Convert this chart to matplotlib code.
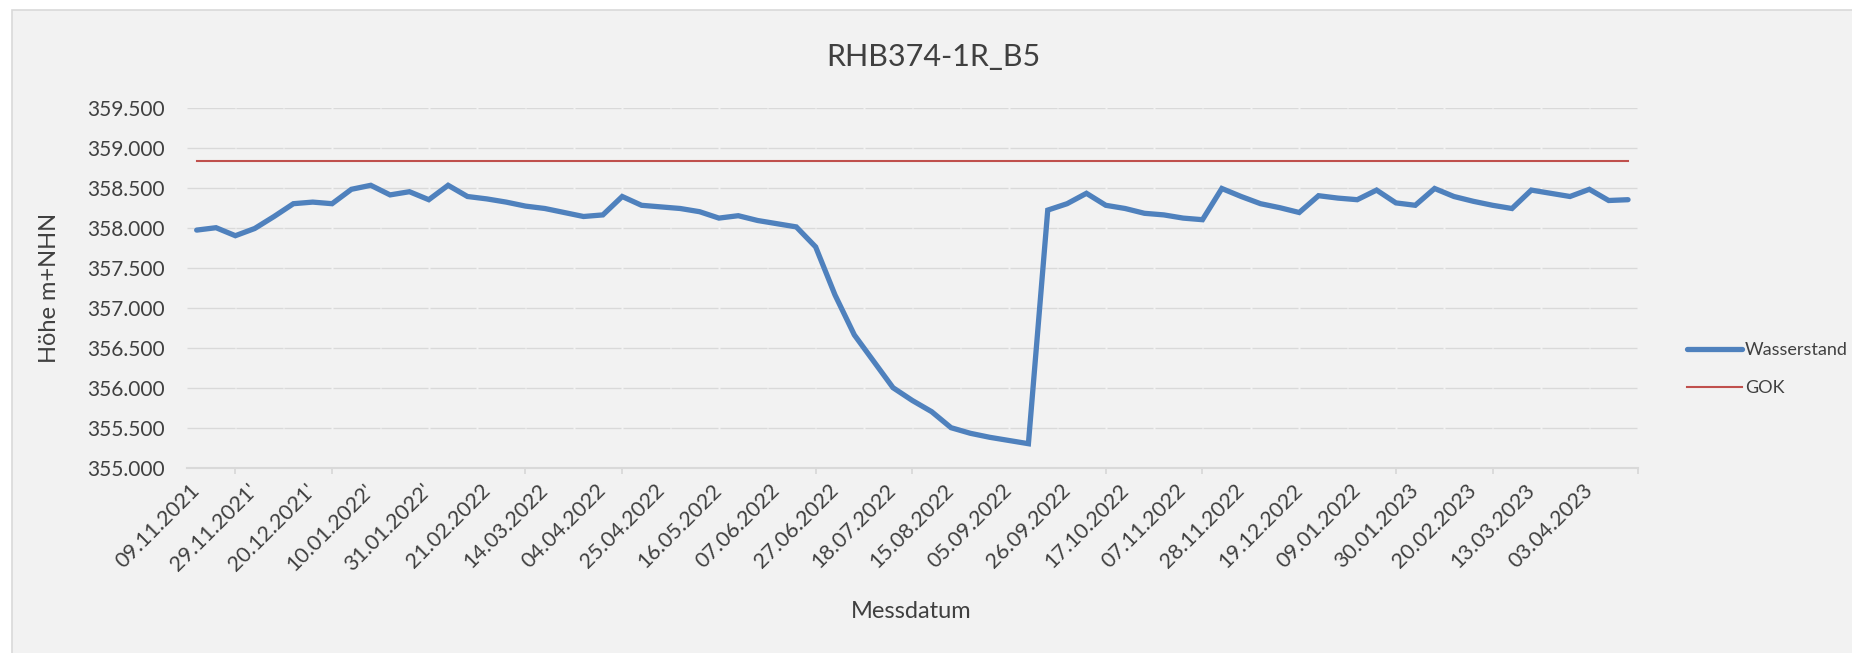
import matplotlib
matplotlib.use("Agg")
import matplotlib.pyplot as plt
from matplotlib.patches import Rectangle
import numpy as np

# Measured water level (m+NHN), one value per measurement date
wasserstand = [
    357.97, 358.00, 357.90, 357.99, 358.14, 358.30, 358.32, 358.30, 358.48, 358.53,
    358.41, 358.45, 358.35, 358.53, 358.39, 358.36, 358.32, 358.27, 358.24, 358.19,
    358.14, 358.16, 358.39, 358.28, 358.26, 358.24, 358.20,
    358.12, 358.15, 358.09, 358.05, 358.01, 357.76, 357.16, 356.66, 356.33, 356.00,
    355.84, 355.70, 355.50, 355.43, 355.38, 355.34, 355.30, 358.22, 358.30, 358.43,
    358.28, 358.24, 358.18, 358.16, 358.12, 358.10,
    358.49, 358.39, 358.30, 358.25, 358.19, 358.40, 358.37, 358.35, 358.47, 358.31,
    358.28, 358.49, 358.39, 358.33, 358.28, 358.24, 358.47, 358.43, 358.39, 358.48,
    358.34, 358.35,
]
# Ground level (Geländeoberkante)
gok_value = 358.84
gok = [gok_value] * len(wasserstand)

# Date labels shown on the category axis (every third measurement)
date_labels = [
    "09.11.2021", "29.11.2021'", "20.12.2021'", "10.01.2022'", "31.01.2022'",
    "21.02.2022", "14.03.2022", "04.04.2022", "25.04.2022", "16.05.2022",
    "07.06.2022", "27.06.2022", "18.07.2022", "15.08.2022", "05.09.2022",
    "26.09.2022", "17.10.2022", "07.11.2022", "28.11.2022", "19.12.2022",
    "09.01.2022", "30.01.2023", "20.02.2023", "13.03.2023", "03.04.2023",
]
label_step = 3
mark_start, mark_step = 2, 5

y_ticks = [355.0, 355.5, 356.0, 356.5, 357.0, 357.5, 358.0, 358.5, 359.0, 359.5]

W, H = 1852, 653
FONT = "Lato"
TXT = "#404040"
BLUE = "#4f81bd"
RED = "#c0504d"
GRID = "#d9d9d9"

plt.rcParams["font.family"] = [FONT, "DejaVu Sans"]

fig = plt.figure(figsize=(W / 100, H / 100), dpi=100, facecolor="white")

# chart area panel
fig.patches.append(Rectangle((12 / W, -0.05), 1.1, 1 - 10 / H + 0.05,
                             transform=fig.transFigure, facecolor="#f2f2f2",
                             edgecolor=GRID, linewidth=1.2, zorder=-10))

left, right, top, bottom = 187, 1637.7, 107.7, 467.7
ax = fig.add_axes([left / W, 1 - bottom / H, (right - left) / W, (bottom - top) / H])
ax.set_zorder(2)
ax.patch.set_visible(False)

n = len(wasserstand)
x = np.arange(n)
ax.set_xlim(-0.5, n - 0.5)
ax.set_ylim(y_ticks[0], y_ticks[-1])

# horizontal gridlines, split into short segments
gaps = np.arange(mark_start, n, 2.5)
gw = 0.04
seg_start = np.concatenate([[-0.5], gaps + gw])
seg_end = np.concatenate([gaps - gw, [n - 0.5]])
for yv in y_ticks[1:]:
    ax.hlines([yv] * len(seg_start), seg_start, seg_end, color=GRID, linewidth=1.0, zorder=1)

ax.plot(x, gok, color=RED, linewidth=1.5, label="GOK", zorder=3)
ax.plot(x, wasserstand, color=BLUE, linewidth=3.8, label="Wasserstand",
        solid_joinstyle="miter", solid_capstyle="round", zorder=4)

for s in ["left", "right", "top"]:
    ax.spines[s].set_visible(False)
ax.spines["bottom"].set_color(GRID)
ax.spines["bottom"].set_linewidth(1.5)

ax.set_yticks(y_ticks)
ax.set_yticklabels([f"{v:.3f}" for v in y_ticks])
ax.tick_params(axis="y", length=0, pad=16, labelsize=15, labelcolor=TXT)

ax.set_xticks(x[::label_step])
ax.set_xticklabels(date_labels, rotation=45, ha="right", va="center",
                   rotation_mode="anchor")
ax.tick_params(axis="x", which="major", length=0, pad=14, labelsize=15.5, labelcolor=TXT)
ax.set_xticks(list(np.arange(mark_start, n, mark_step)) + [n - 0.5], minor=True)
ax.tick_params(axis="x", which="minor", length=4, width=1.3, color=GRID)

fig.text(933 / W, 1 - 66 / H, "RHB374-1R_B5", ha="center", va="baseline",
         fontsize=22, color=TXT)
fig.text(911 / W, 1 - 617.7 / H, "Messdatum", ha="center", va="baseline",
         fontsize=17, color=TXT)
fig.text(50 / W, 1 - 287.7 / H, "Höhe m+NHN", ha="center", va="center",
         rotation=90, fontsize=17, color=TXT)

handles, labels = ax.get_legend_handles_labels()
order = [1, 0]
leg = ax.legend([handles[i] for i in order], [labels[i] for i in order],
                loc="center left", bbox_to_anchor=(1686.5 / W, 1 - 369.3 / H),
                bbox_transform=fig.transFigure, frameon=False, fontsize=13,
                handlelength=3.1, handletextpad=0.15, labelspacing=1.2,
                borderpad=0, borderaxespad=0)
for t in leg.get_texts():
    t.set_color(TXT)

fig.savefig("out.png", dpi=100, facecolor="white")
